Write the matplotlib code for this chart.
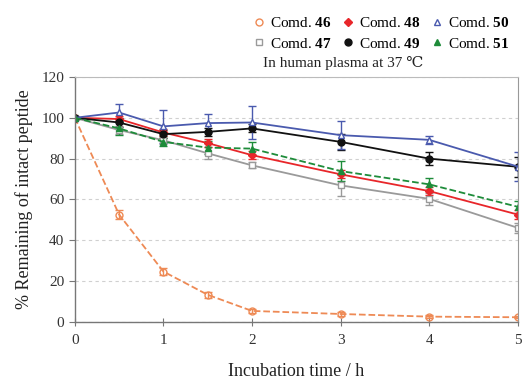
import matplotlib
matplotlib.use('Agg')
import matplotlib.pyplot as plt
from matplotlib.lines import Line2D

# time points (h)
times = [0, 0.5, 1, 1.5, 2, 3, 4, 5]

# % remaining of intact peptide
comd46 = [100, 52.6, 24.7, 13.3, 5.4, 3.9, 2.6, 2.3]
comd47 = [100, 94.0, 89.0, 82.6, 76.7, 66.9, 60.3, 46.1]
comd48 = [100, 99.4, 92.8, 87.6, 81.7, 72.3, 64.1, 52.6]
comd49 = [100, 97.7, 92.0, 93.1, 94.8, 88.2, 80.0, 76.0]
comd50 = [100, 102.6, 95.8, 97.4, 97.7, 91.5, 89.2, 76.1]
comd51 = [100, 94.8, 88.2, 85.4, 84.9, 73.9, 67.4, 56.4]

err46 = [0.5, 2.0, 1.5, 1.5, 1.0, 0.8, 0.6, 0.5]
err47 = [0.5, 2.0, 2.0, 3.0, 1.5, 5.0, 3.0, 2.5]
err48 = [0.5, 1.5, 1.5, 2.0, 2.0, 2.0, 2.0, 2.0]
err49 = [0.5, 2.0, 2.0, 2.0, 2.0, 4.0, 3.0, 5.0]
err50 = [0.5, 4.0, 8.0, 4.5, 8.0, 7.0, 2.0, 7.0]
err51 = [0.5, 3.0, 2.0, 3.0, 3.0, 5.0, 3.0, 3.0]

plt.rcParams['font.family'] = ['Liberation Serif', 'DejaVu Serif']
plt.rcParams['mathtext.fontset'] = 'custom'
plt.rcParams['mathtext.rm'] = 'Liberation Serif'
plt.rcParams['mathtext.bf'] = 'Liberation Serif:bold'

fig = plt.figure(figsize=(5.23, 3.81), dpi=100)
ax = fig.add_axes([0.143, 0.155, 0.847, 0.643])

series = [
    (comd46, err46, 'Comd. $\\mathbf{46}$', '#EE8A55', 'o', 'none', '--'),
    (comd47, err47, 'Comd. $\\mathbf{47}$', '#9A9A9A', 's', 'white', '-'),
    (comd48, err48, 'Comd. $\\mathbf{48}$', '#E8262A', 'D', '#E8262A', '-'),
    (comd49, err49, 'Comd. $\\mathbf{49}$', '#111111', 'o', '#111111', '-'),
    (comd50, err50, 'Comd. $\\mathbf{50}$', '#4A5AAE', '^', 'white', '-'),
    (comd51, err51, 'Comd. $\\mathbf{51}$', '#1E8C3A', '^', '#1E8C3A', '--'),
]

handles = []
for vals, errs, label, color, marker, face, ls in series:
    ms = 4 if marker == 'D' else 5
    ax.errorbar(times, vals, yerr=errs, color=color, ecolor=color,
                linestyle=ls, linewidth=1.3, marker=marker, markersize=ms,
                markerfacecolor=face, markeredgecolor=color,
                markeredgewidth=1.0, capsize=3, elinewidth=1.0)
    handles.append(Line2D([], [], linestyle='none', marker=marker,
                          markersize=ms, markerfacecolor=face,
                          markeredgecolor=color, markeredgewidth=1.0))

ax.set_xlim(0, 5)
ax.set_ylim(0, 120)
ax.set_xticks([0, 1, 2, 3, 4, 5])
ax.set_yticks([0, 20, 40, 60, 80, 100, 120])
ax.yaxis.grid(True, linestyle=(0, (3, 3)), color='#D0D0D0', linewidth=0.8)
ax.set_axisbelow(True)

for side in ['left', 'bottom']:
    ax.spines[side].set_color('#777777')
    ax.spines[side].set_linewidth(1.0)
ax.spines['top'].set_color('#BBBBBB')
ax.spines['right'].set_color('#999999')

ax.tick_params(axis='y', direction='out', length=4, color='#777777',
               labelsize=11, labelcolor='#333333')
ax.tick_params(axis='x', direction='inout', length=6, color='#777777',
               labelsize=11, labelcolor='#333333', pad=6)

ax.set_xlabel('Incubation time / h', fontsize=13, color='#222222', labelpad=11)
ax.set_ylabel('% Remaining of intact peptide', fontsize=13, color='#222222', labelpad=6)

fig.legend(handles=handles,
           labels=[s[2] for s in series],
           ncol=3, loc='upper right', bbox_to_anchor=(0.995, 0.985),
           frameon=False, fontsize=11, handlelength=0.8, handletextpad=0.3,
           columnspacing=0.7, labelspacing=0.4, borderaxespad=0.3)

fig.text(0.503, 0.835, 'In human plasma at 37 ℃', fontsize=11, color='#222222',
         ha='left', va='center')

fig.savefig('out.png', dpi=100)
